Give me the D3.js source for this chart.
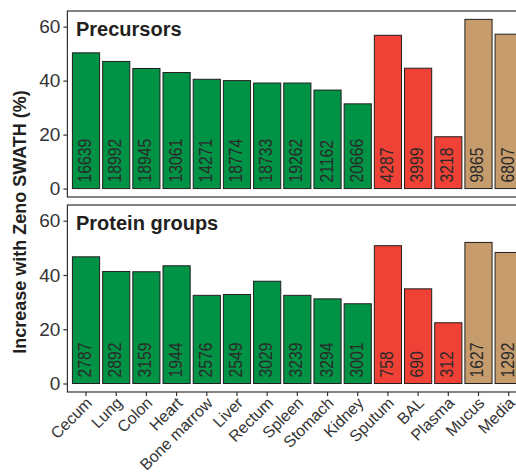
<!DOCTYPE html>
<html>
<head>
<meta charset="utf-8">
<script src="https://cdn.jsdelivr.net/npm/d3@7"></script>
<style>
  body { margin: 0; overflow: hidden; background: #fff; }
  text { font-family: "Liberation Sans", Arial, sans-serif; }
</style>
</head>
<body>
<div id="chart"></div>
<script>
// Categories and groups (tissue / fluid / other)
const categories = ["Cecum", "Lung", "Colon", "Heart", "Bone marrow", "Liver", "Rectum",
  "Spleen", "Stomach", "Kidney", "Sputum", "BAL", "Plasma", "Mucus", "Media"];
const groups = ["tissue", "tissue", "tissue", "tissue", "tissue", "tissue", "tissue",
  "tissue", "tissue", "tissue", "fluid", "fluid", "fluid", "other", "other"];

// Increase with Zeno SWATH (%)
const precursorIncrease = [50.3, 47.1, 44.5, 43.0, 40.5, 40.0, 39.1, 39.1, 36.5, 31.4,
  56.8, 44.6, 19.2, 62.7, 57.2];
const proteinIncrease = [46.7, 41.3, 41.2, 43.4, 32.5, 32.8, 37.7, 32.5, 31.2, 29.4,
  50.8, 34.9, 22.4, 52.0, 48.3];

// Counts printed inside bars
const precursorCounts = [16639, 18992, 18945, 13061, 14271, 18774, 18733, 19262, 21162, 20666,
  4287, 3999, 3218, 9865, 6807];
const proteinCounts = [2787, 2892, 3159, 1944, 2576, 2549, 3029, 3239, 3294, 3001,
  758, 690, 312, 1627, 1292];

const yTicks = [0, 20, 40, 60];
const groupColors = { tissue: "#009245", fluid: "#EF4136", other: "#C69C6D" };

const svgWidth = 530, svgHeight = 474;
const plotLeft = 67.9, plotRight = 526.8;

const svg = d3.select("#chart").append("svg")
  .attr("width", svgWidth)
  .attr("height", svgHeight);

const x = d3.scaleBand()
  .domain(categories)
  .range([plotLeft, plotRight])
  .paddingInner(0.1)
  .paddingOuter(0.15);

const yDomain = [-3.13, 65.8];

const panels = [
  { title: "Precursors", values: precursorIncrease, counts: precursorCounts, top: 11, bottom: 197 },
  { title: "Protein groups", values: proteinIncrease, counts: proteinCounts, top: 205, bottom: 392 }
];

panels.forEach((p, pi) => {
  const y = d3.scaleLinear().domain(yDomain).range([p.bottom, p.top]);
  const g = svg.append("g");

  const rows = categories.map((c, i) => ({ cat: c, group: groups[i], value: p.values[i], count: p.counts[i] }));

  // bars
  g.selectAll("rect.bar")
    .data(rows)
    .enter()
    .append("rect")
    .attr("class", "bar")
    .attr("x", d => x(d.cat))
    .attr("width", x.bandwidth())
    .attr("y", d => y(d.value))
    .attr("height", d => y(0) - y(d.value))
    .attr("fill", d => groupColors[d.group])
    .attr("stroke", "#231f20")
    .attr("stroke-width", 1);

  // counts, written upwards from the bottom of each bar (narrow digits)
  g.selectAll("text.count")
    .data(rows)
    .enter()
    .append("text")
    .attr("class", "count")
    .attr("transform", d => `translate(${x(d.cat) + x.bandwidth() / 2 + 5},${y(0) - 6}) rotate(-90) scale(0.83,1)`)
    .style("font-size", "19px")
    .attr("fill", "#2a2a2a")
    .text(d => d.count);

  // panel border
  g.append("rect")
    .attr("x", plotLeft - 0.5)
    .attr("y", p.top)
    .attr("width", plotRight - plotLeft + 1)
    .attr("height", p.bottom - p.top)
    .attr("fill", "none")
    .attr("stroke", "#333")
    .attr("stroke-width", 1.2);

  // panel title
  g.append("text")
    .attr("x", 76)
    .attr("y", p.top + 25)
    .style("font-size", "20px")
    .style("font-weight", "bold")
    .attr("fill", "#231f20")
    .text(p.title);

  // y axis
  const yAxis = g.append("g")
    .attr("transform", `translate(${plotLeft - 0.5},0)`)
    .call(d3.axisLeft(y).tickValues(yTicks).tickSize(4).tickPadding(3));
  yAxis.select(".domain").remove();
  yAxis.selectAll("line").attr("stroke", "#333").attr("stroke-width", 1.2);
  yAxis.selectAll("text")
    .style("font-size", "19px")
    .style("font-family", "'Liberation Sans', Arial, sans-serif")
    .attr("fill", "#333");

  // x axis on the bottom panel only
  if (pi === 1) {
    const xAxis = g.append("g")
      .attr("transform", `translate(0,${p.bottom})`)
      .call(d3.axisBottom(x).tickSize(4).tickSizeOuter(0));
    xAxis.select(".domain").remove();
    xAxis.selectAll("line").attr("stroke", "#333").attr("stroke-width", 1.2);
    xAxis.selectAll("text")
      .attr("y", 0)
      .attr("dy", 0)
      .attr("transform", "translate(7,12) rotate(-45)")
      .attr("text-anchor", "end")
      .style("font-size", "16px")
      .style("font-family", "'Liberation Sans', Arial, sans-serif")
      .attr("fill", "#333");
  }
});

// y axis title
svg.append("text")
  .attr("transform", "translate(26,222) rotate(-90)")
  .attr("text-anchor", "middle")
  .style("font-size", "18px")
  .style("font-weight", "bold")
  .attr("fill", "#231f20")
  .text("Increase with Zeno SWATH (%)");
</script>
</body>
</html>
